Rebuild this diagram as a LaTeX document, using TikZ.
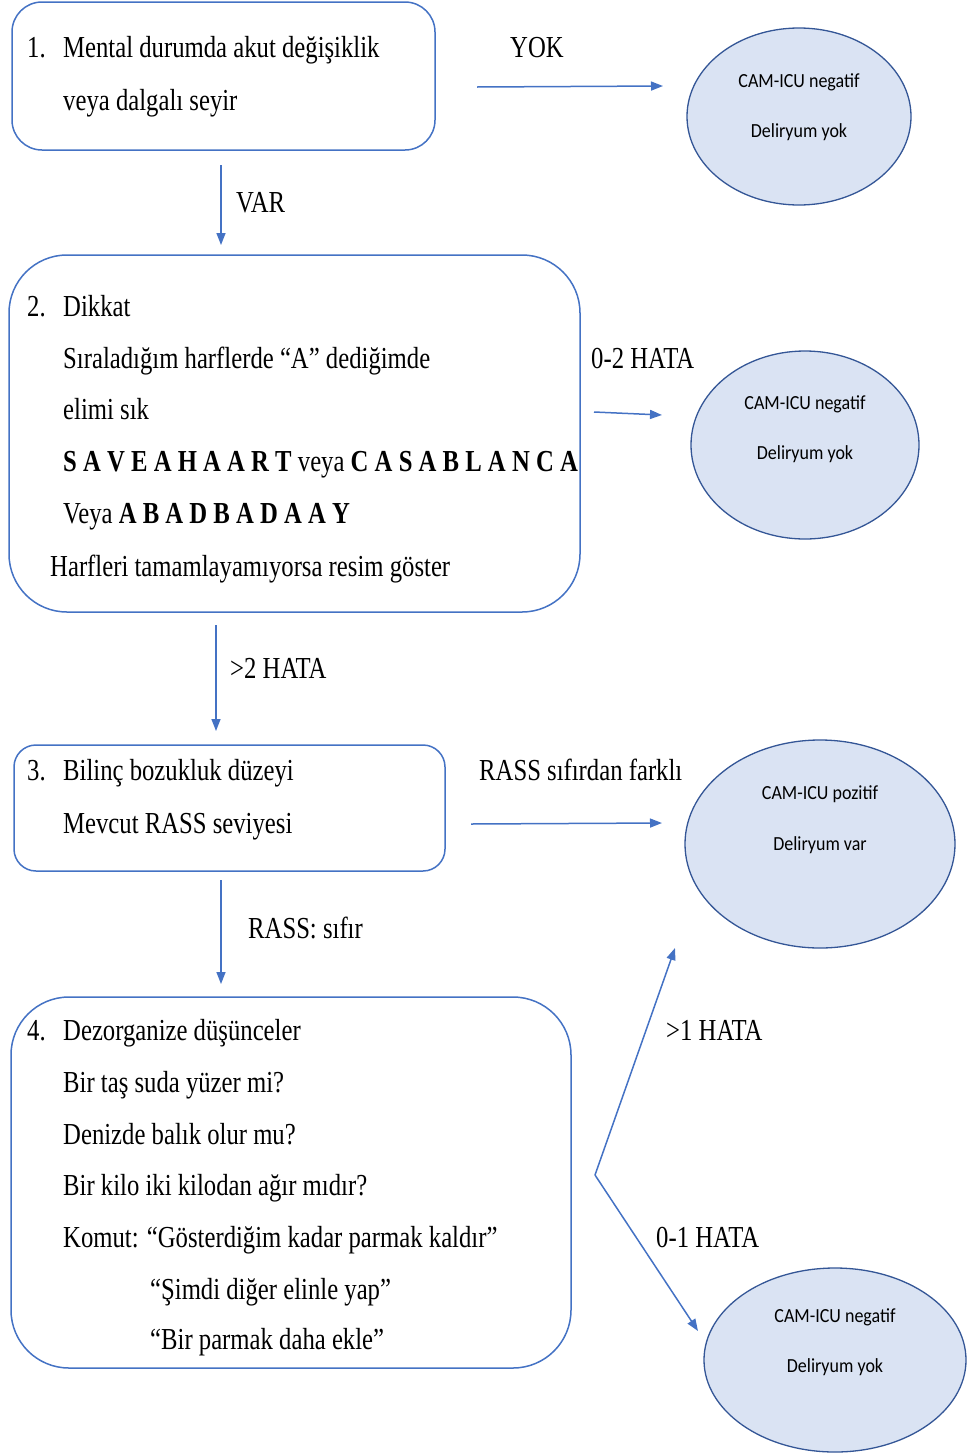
\documentclass[tikz,border=0pt]{standalone}
\usepackage{fontspec}
\setmainfont{Liberation Serif}[FakeStretch=0.81]
\newfontfamily\ellfont{Carlito}[FakeStretch=0.9]
\usetikzlibrary{shapes.geometric,arrows.meta}
\definecolor{boxblue}{RGB}{68,114,196}
\definecolor{ellfill}{RGB}{218,227,243}
\definecolor{elldraw}{RGB}{52,86,150}
\tikzset{
  box/.style={draw=boxblue, line width=1.5pt, fill=white, inner sep=0pt},
  ell/.style={ellipse, draw=elldraw, line width=1.3pt, fill=ellfill, inner sep=0pt},
  arr/.style={draw=boxblue, line width=1.5pt, -{Triangle[length=12pt,width=9pt]}},
  txt/.style={anchor=base west, inner sep=0pt, font=\fontsize{30.5}{36}\selectfont},
  etxt/.style={anchor=base, inner sep=0pt, font=\ellfont\fontsize{20}{24}\selectfont},
}
\begin{document}
\begin{tikzpicture}[x=1pt,y=-1pt]
\useasboundingbox (0,0) rectangle (972,1454);
% boxes
\node[box, rounded corners=30pt, minimum width=423pt, minimum height=148pt] (b1) at (223.5,76) {};
\node[box, rounded corners=58pt, minimum width=571pt, minimum height=357pt] (b2) at (294.5,433.5) {};
\node[box, rounded corners=22pt, minimum width=431pt, minimum height=126pt] (b3) at (229.5,808) {};
\node[box, rounded corners=58pt, minimum width=560pt, minimum height=371pt] (b4) at (291,1182.5) {};
% ellipses
\node[ell, minimum width=224pt, minimum height=177pt] (e1) at (799,116.5) {};
\node[ell, minimum width=228pt, minimum height=188pt] (e2) at (805,445) {};
\node[ell, minimum width=270pt, minimum height=208pt] (e3) at (820,844) {};
\node[ell, minimum width=262pt, minimum height=184pt] (e4) at (835,1360) {};
% ellipse texts
\node[etxt] (e1a) at (799,87) {CAM-ICU negatif};
\node[etxt] (e1b) at (799,137) {Deliryum yok};
\node[etxt] (e2a) at (805,409) {CAM-ICU negatif};
\node[etxt] (e2b) at (805,459) {Deliryum yok};
\node[etxt] (e3a) at (820,799) {CAM-ICU pozitif};
\node[etxt] (e3b) at (820,850) {Deliryum var};
\node[etxt] (e4a) at (835,1322) {CAM-ICU negatif};
\node[etxt] (e4b) at (835,1372) {Deliryum yok};
% box 1 text
\node[txt] (n1) at (27,57) {1.};
\node[txt] (t1a) at (63,57) {Mental durumda akut değişiklik};
\node[txt] (t1b) at (63,110) {veya dalgalı seyir};
% box 2 text
\node[txt] (n2) at (27,316) {2.};
\node[txt] (t2a) at (63,316) {Dikkat};
\node[txt] (t2b) at (63,368) {Sıraladığım harflerde “A” dediğimde};
\node[txt] (t2c) at (63,419) {elimi sık};
\node[txt] (t2d) at (63,471) {\textbf{S A V E A H A A R T} veya \textbf{C A S A B L A N C A}};
\node[txt] (t2e) at (63,523) {Veya \textbf{A B A D B A D A A Y}};
\node[txt] (t2f) at (50,576) {Harfleri tamamlayamıyorsa resim göster};
% box 3 text
\node[txt] (n3) at (27,780) {3.};
\node[txt] (t3a) at (63,780) {Bilinç bozukluk düzeyi};
\node[txt] (t3b) at (63,833) {Mevcut RASS seviyesi};
% box 4 text
\node[txt] (n4) at (27,1040) {4.};
\node[txt] (t4a) at (63,1040) {Dezorganize düşünceler};
\node[txt] (t4b) at (63,1092) {Bir taş suda yüzer mi?};
\node[txt] (t4c) at (63,1144) {Denizde balık olur mu?};
\node[txt] (t4d) at (63,1195) {Bir kilo iki kilodan ağır mıdır?};
\node[txt] (t4e) at (63,1247) {Komut: “Gösterdiğim kadar parmak kaldır”};
\node[txt] (t4f) at (150,1299) {“Şimdi diğer elinle yap”};
\node[txt] (t4g) at (150,1349) {“Bir parmak daha ekle”};
% connector labels
\node[txt] (lyok) at (510,57) {YOK};
\node[txt] (lvar) at (236,212) {VAR};
\node[txt] (l02) at (591,368) {0-2 HATA};
\node[txt] (lg2) at (230,678) {>2 HATA};
\node[txt] (lrf) at (479,780) {RASS sıfırdan farklı};
\node[txt] (lrs) at (248,938) {RASS: sıfır};
\node[txt] (lg1) at (666,1040) {>1 HATA};
\node[txt] (l01) at (656,1247) {0-1 HATA};
% connector end points
\coordinate (a1s) at (477,87);   \coordinate (a1e) at (663,86);
\coordinate (a2s) at (221,165);  \coordinate (a2e) at (221,245);
\coordinate (a3s) at (594,412);  \coordinate (a3e) at (662,415);
\coordinate (a4s) at (216,625);  \coordinate (a4e) at (216,731);
\coordinate (a5s) at (471,824);  \coordinate (a5e) at (662,823);
\coordinate (a6s) at (221,880);  \coordinate (a6e) at (221,984);
\coordinate (br) at (595,1175);
\coordinate (a7e) at (675,948);
\coordinate (a8e) at (698,1331);
% connectors
\draw[arr] (a1s) -- (a1e);
\draw[arr] (a2s) -- (a2e);
\draw[arr] (a3s) -- (a3e);
\draw[arr] (a4s) -- (a4e);
\draw[arr] (a5s) -- (a5e);
\draw[arr] (a6s) -- (a6e);
\draw[arr] (br) -- (a7e);
\draw[arr] (br) -- (a8e);
\end{tikzpicture}
\end{document}
